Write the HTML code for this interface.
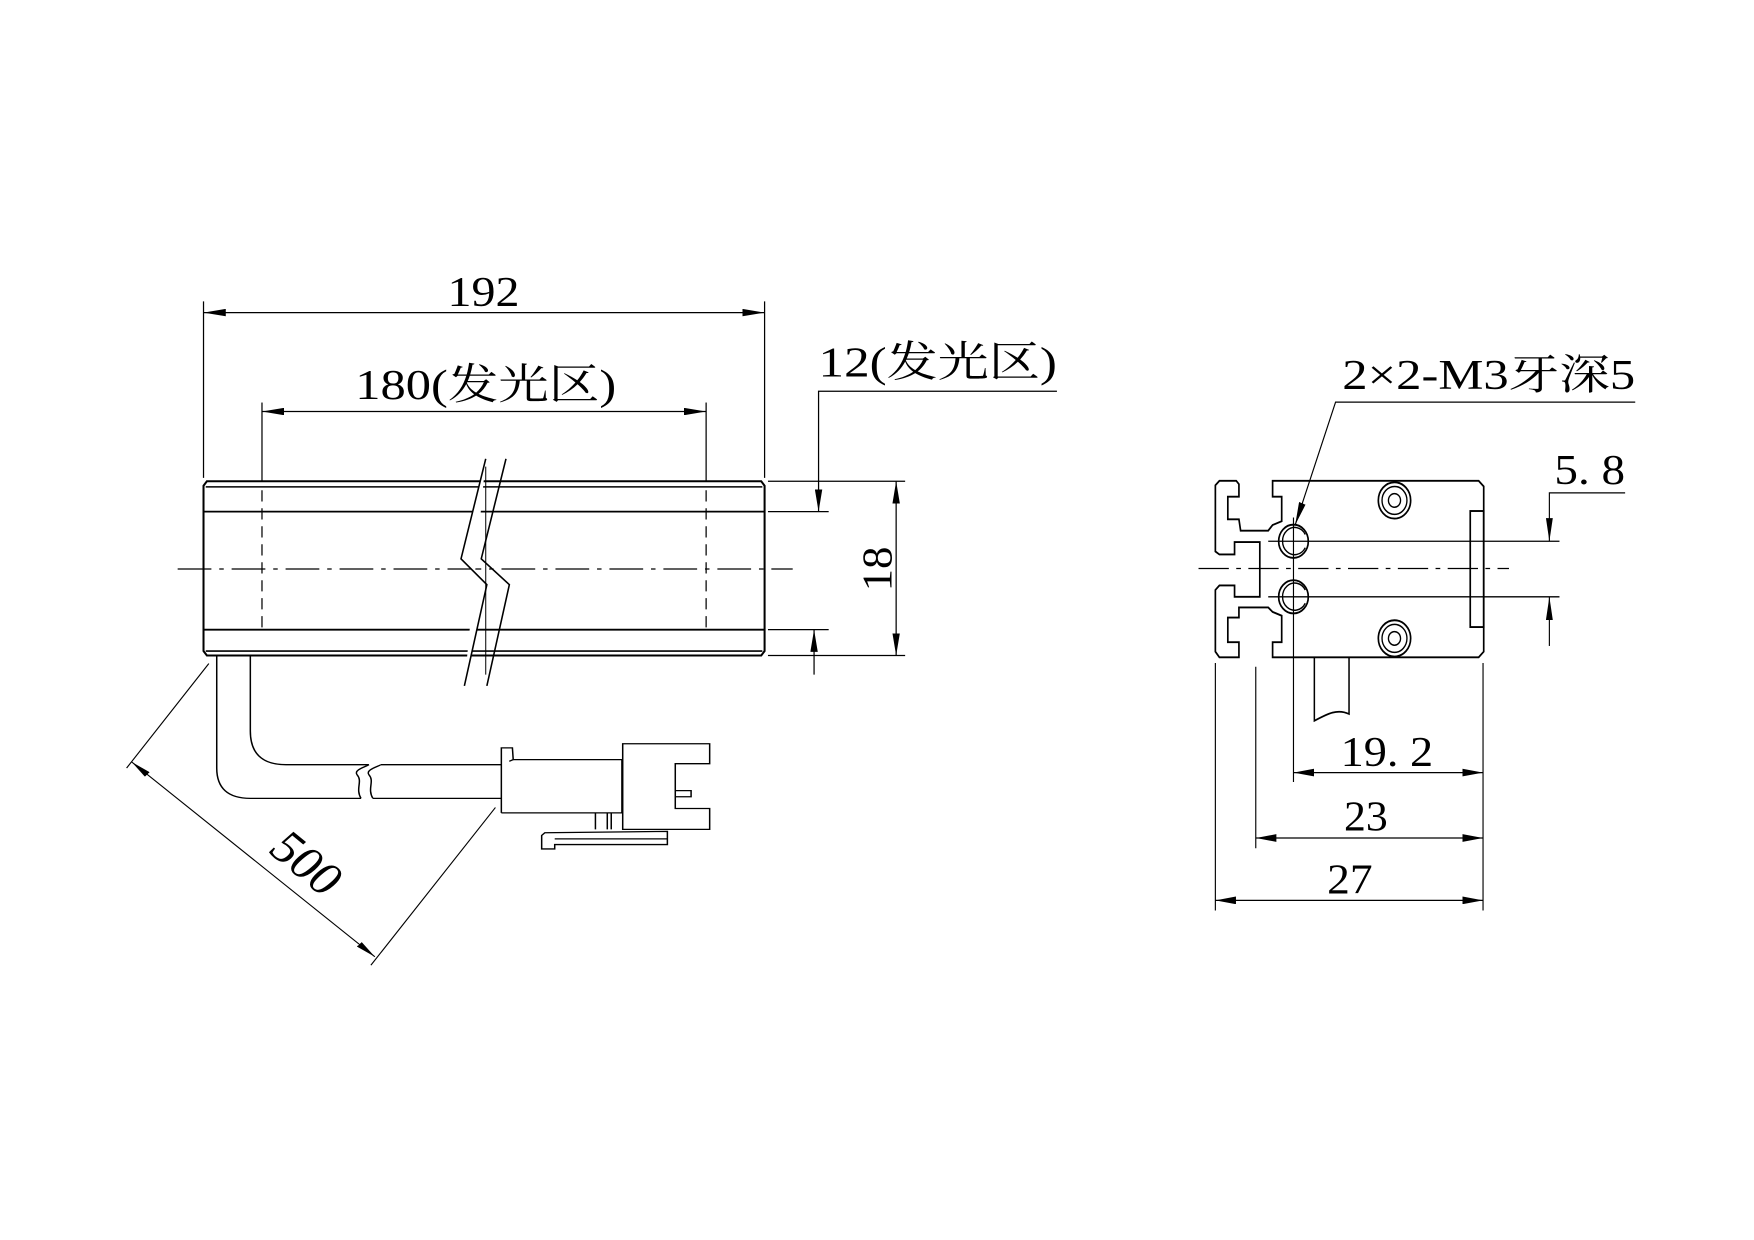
<!DOCTYPE html>
<html><head><meta charset="utf-8"><style>
html,body{margin:0;padding:0;background:#fff;}
svg{display:block;}
text{font-family:"Liberation Serif","Noto Serif CJK SC",serif;fill:#000;}
</style></head><body>
<svg width="1754" height="1240" viewBox="0 0 1754 1240" xmlns="http://www.w3.org/2000/svg">
<defs>
<marker id="a" viewBox="0 0 18 6" refX="18" refY="3" markerWidth="18" markerHeight="6" markerUnits="strokeWidth" orient="auto-start-reverse"><path d="M0,0 L18,3 L0,6 Z" fill="#000"/></marker>
</defs>

<!-- LEFT VIEW (overview coords) -->
<g transform="scale(1.1244)" fill="none" stroke="#000" stroke-width="1.1">
  <line x1="181" y1="268" x2="181" y2="425"/>
  <line x1="680" y1="268" x2="680" y2="425"/>
  <line x1="181" y1="278" x2="680" y2="278" marker-start="url(#a)" marker-end="url(#a)"/>
  <line x1="233" y1="358" x2="233" y2="428"/>
  <line x1="628" y1="358" x2="628" y2="428"/>
  <line x1="233" y1="436" x2="233" y2="560" stroke-dasharray="10 6"/>
  <line x1="628" y1="436" x2="628" y2="560" stroke-dasharray="10 6"/>
  <line x1="233" y1="366" x2="628" y2="366" marker-start="url(#a)" marker-end="url(#a)"/>
  <g stroke-width="1.8">
    <path d="M184,428 L677,428 L680,432 L680,579 L677,583 L184,583 L181,579 L181,432 Z"/>
  </g>
  <line x1="183" y1="433" x2="678" y2="433" stroke-width="1.4"/>
  <line x1="183" y1="579" x2="678" y2="579" stroke-width="1.4"/>
  <line x1="181" y1="455" x2="680" y2="455" stroke-width="1.6"/>
  <line x1="181" y1="560" x2="680" y2="560" stroke-width="1.6"/>
  <line x1="158" y1="506" x2="705" y2="506" stroke-dasharray="30 7 4 7"/>
  <path d="M432,408 L410,497 L433,520 L413,610" fill="#fff" stroke="none"/>
  <path d="M432,408 L410,497 L433,520 L413,610" stroke-width="1.4"/>
  <path d="M450,408 L428,497 L453,520 L433,610" stroke-width="1.4"/>
  <line x1="432" y1="415" x2="432" y2="600" stroke-width="0.9"/>
  <path d="M940,348 L728,348 L728,455" marker-end="url(#a)"/>
  <line x1="724" y1="600" x2="724" y2="560" marker-end="url(#a)"/>
  <line x1="683" y1="455" x2="737" y2="455"/>
  <line x1="683" y1="560" x2="737" y2="560"/>
  <line x1="683" y1="428" x2="805" y2="428"/>
  <line x1="683" y1="583" x2="805" y2="583"/>
  <line x1="797" y1="428" x2="797" y2="583" marker-start="url(#a)" marker-end="url(#a)"/>
  <g stroke="none">
    <text x="398" y="272" font-size="38" textLength="64" lengthAdjust="spacingAndGlyphs">192</text>
    <text x="316" y="355" font-size="38" textLength="232" lengthAdjust="spacingAndGlyphs">180(发光区)</text>
    <text x="728" y="335" font-size="38" textLength="212" lengthAdjust="spacingAndGlyphs">12(发光区)</text>
    <text transform="translate(793,526) rotate(-90)" font-size="38" textLength="40" lengthAdjust="spacingAndGlyphs">18</text>
  </g>
</g>

<!-- CABLE + CONNECTOR (zoom3 coords) -->
<g transform="translate(110,640) scale(0.3953,0.337)" fill="none" stroke="#000" stroke-width="3.8">
  <path d="M270,45 L270,380 Q270,470 355,470 L635,470"/>
  <path d="M635,470 C620,440 640,420 625,400 C615,385 650,375 655,370"/>
  <path d="M665,470 C650,440 670,420 655,400 C645,385 680,375 685,370"/>
  <path d="M665,470 L990,470"/>
  <path d="M355,45 L355,270 Q355,370 445,370 L655,370"/>
  <path d="M685,370 L990,370"/>
  <path d="M990,513 L990,320 L1018,320 L1020,355 L1010,360"/>
  <path d="M1020,355 L1295,355 L1295,513 L990,513"/>
  <path d="M1297,308 L1517,308 L1517,367 L1430,367 L1430,500 L1517,500 L1517,562 L1297,562 Z"/>
  <path d="M1430,447 L1470,447 L1470,465 L1430,465"/>
  <path d="M1228,513 L1228,562 M1258,513 L1258,562 M1268,513 L1268,562"/>
  <path d="M1092,580 L1100,572 L1410,568 L1410,607 L1125,607 L1125,620 L1092,620 Z"/>
  <path d="M1125,590 L1410,590"/>
  <g stroke-width="3">
    <line x1="250" y1="70" x2="42" y2="380"/>
    <line x1="975" y1="497" x2="660" y2="965"/>
    <line x1="55" y1="362" x2="670" y2="940" marker-start="url(#a)" marker-end="url(#a)"/>
  </g>
  <text transform="translate(395,625) rotate(44)" font-size="135" stroke="none" textLength="200" lengthAdjust="spacingAndGlyphs">500</text>
</g>

<!-- RIGHT VIEW (zoom2 coords) -->
<g transform="translate(1179,336) scale(0.3367,0.378)" fill="none" stroke="#000" stroke-width="3.4">
  <path stroke-width="5" d="M108,395 L120,383 L170,383 L178,392 L178,425 L145,425 L145,485 L178,485 L183,515 L265,515 L278,500 L305,490 L305,425 L278,425 L278,383 L890,383 L905,398 L905,835 L890,850 L278,850 L278,810 L305,810 L305,740 L278,730 L265,718 L178,718 L178,745 L145,745 L145,810 L178,810 L178,850 L120,850 L108,835 L108,672 L120,660 L165,660 L165,690 L240,690 L240,545 L165,545 L165,578 L120,578 L108,570 Z"/>
  <rect x="865" y="463" width="40" height="307" stroke-width="5"/>
  <circle cx="340" cy="543" r="44" stroke-width="5"/>
  <circle cx="340" cy="690" r="44" stroke-width="5"/>
  <path d="M375,525 A36,36 0 1,0 375,560" stroke-width="4"/>
  <path d="M375,672 A36,36 0 1,0 375,707" stroke-width="4"/>
  <circle cx="640" cy="435" r="48" stroke-width="5"/>
  <circle cx="640" cy="435" r="37" stroke-width="4"/>
  <circle cx="640" cy="435" r="18" stroke-width="4"/>
  <circle cx="640" cy="800" r="48" stroke-width="5"/>
  <circle cx="640" cy="800" r="37" stroke-width="4"/>
  <circle cx="640" cy="800" r="18" stroke-width="4"/>
  <line x1="58" y1="615" x2="980" y2="615" stroke-dasharray="90 22 14 22"/>
  <line x1="265" y1="543" x2="1130" y2="543"/>
  <line x1="265" y1="690" x2="1130" y2="690"/>
  <line x1="340" y1="480" x2="340" y2="1180"/>
  <path d="M1355,175 L465,175 L345,500" marker-end="url(#a)"/>
  <path d="M1325,415 L1100,415 L1100,543" marker-end="url(#a)"/>
  <line x1="1100" y1="820" x2="1100" y2="690" marker-end="url(#a)"/>
  <path d="M402,850 L402,1018 C440,1000 470,985 505,1000 L505,850" stroke-width="4.5"/>
  <line x1="108" y1="865" x2="108" y2="1520"/>
  <line x1="228" y1="875" x2="228" y2="1355"/>
  <line x1="903" y1="865" x2="903" y2="1520"/>
  <line x1="340" y1="1155" x2="903" y2="1155" marker-start="url(#a)" marker-end="url(#a)"/>
  <line x1="228" y1="1328" x2="903" y2="1328" marker-start="url(#a)" marker-end="url(#a)"/>
  <line x1="108" y1="1493" x2="903" y2="1493" marker-start="url(#a)" marker-end="url(#a)"/>
  <g stroke="none">
    <text x="485" y="140" font-size="112" textLength="870" lengthAdjust="spacingAndGlyphs">2×2-M3牙深5</text>
    <text x="1115" y="392" font-size="112" textLength="210" lengthAdjust="spacingAndGlyphs">5. 8</text>
    <text x="480" y="1138" font-size="112" textLength="275" lengthAdjust="spacingAndGlyphs">19. 2</text>
    <text x="490" y="1308" font-size="112" textLength="130" lengthAdjust="spacingAndGlyphs">23</text>
    <text x="440" y="1475" font-size="112" textLength="135" lengthAdjust="spacingAndGlyphs">27</text>
  </g>
</g>
</svg>
</body></html>
